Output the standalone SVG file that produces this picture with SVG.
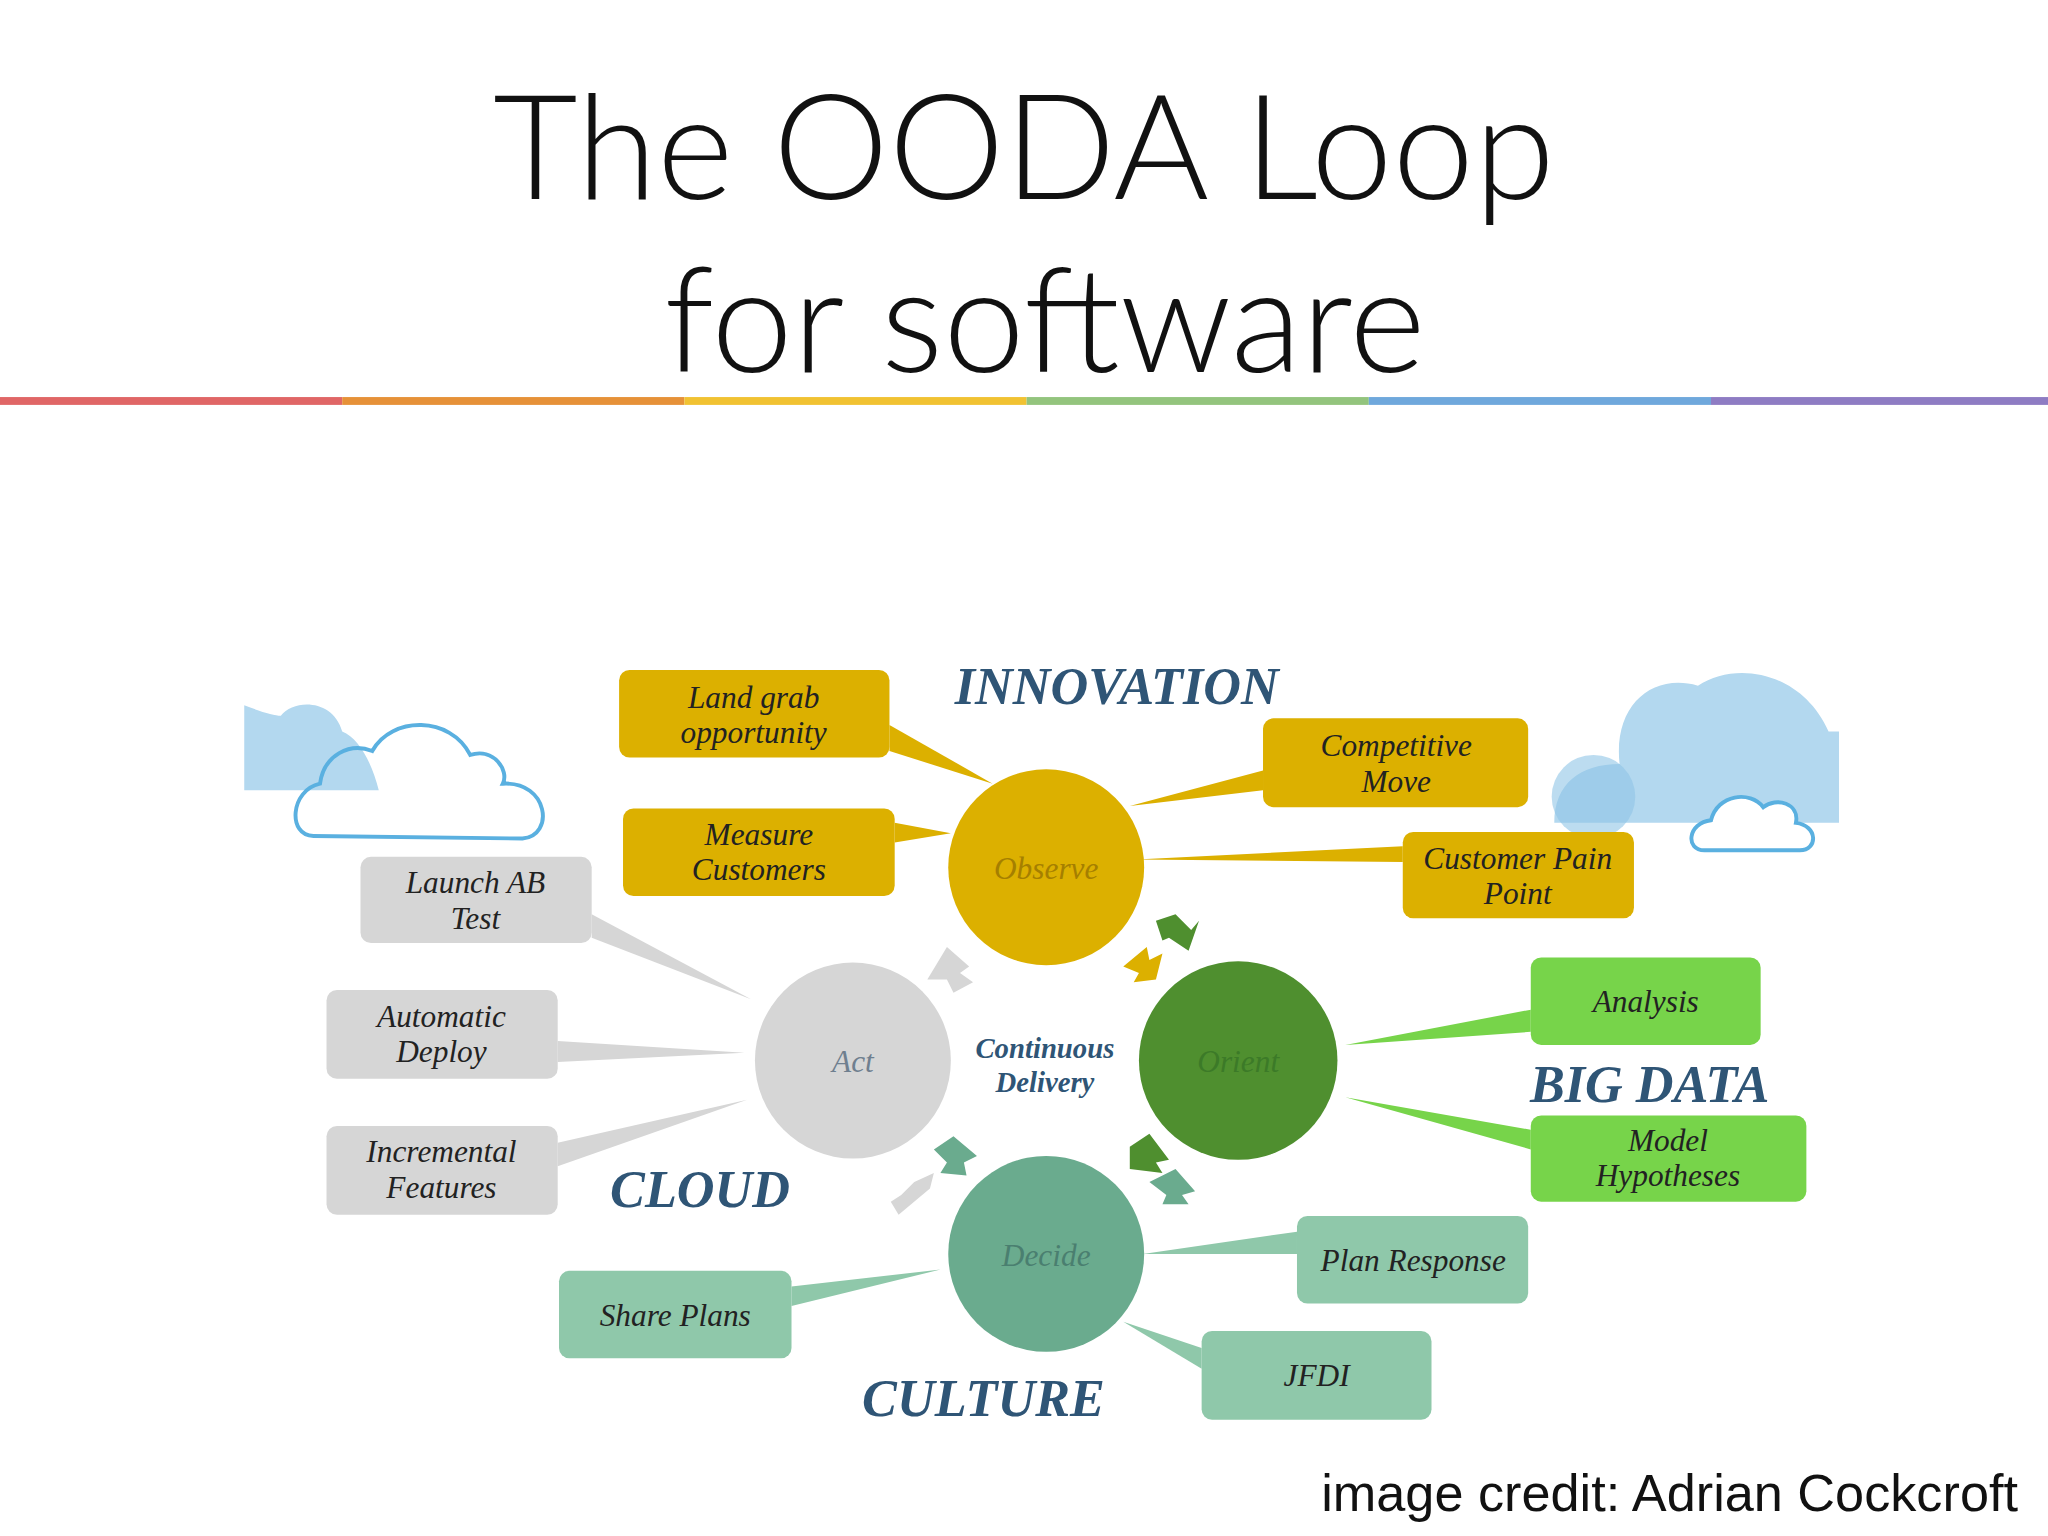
<svg xmlns="http://www.w3.org/2000/svg" width="2048" height="1536" viewBox="0 0 2048 1536">
<style>
.t{font-family:"Lato","Liberation Sans",sans-serif;font-weight:300;fill:#111;text-anchor:middle}
.b{font-family:"Liberation Serif",serif;font-style:italic;font-size:24px;fill:#222;text-anchor:middle}
.h{font-family:"Liberation Serif",serif;font-style:italic;font-weight:bold;fill:#2f5576;text-anchor:middle}
.y{fill:#dcb000}.g{fill:#d6d6d6}.l{fill:#77d44a}.q{fill:#8fc8aa}
</style>
<rect width="2048" height="1536" fill="#fff"/>
<g transform="scale(1.30612)">
<text class="t" x="784" y="152" font-size="112">The OODA Loop</text>
<text class="t" x="800" y="285" font-size="112">for software</text>
<g id="rainbow">
<rect x="0" y="304" width="262" height="6" fill="#e06666"/>
<rect x="262" y="304" width="262" height="6" fill="#e69138"/>
<rect x="524" y="304" width="262" height="6" fill="#f1c232"/>
<rect x="786" y="304" width="262" height="6" fill="#93c47d"/>
<rect x="1048" y="304" width="262" height="6" fill="#6fa8dc"/>
<rect x="1310" y="304" width="258" height="6" fill="#8e7cc3"/>
</g>
<g id="clouds">
<path d="M187 605 V540 C200 545 210 548 215 548 C225 535 255 535 262 560 C275 565 285 585 290 605 Z" fill="#b3d8ef"/>
<path d="M240 640 C220 640 222 605 245 600 C248 578 268 568 285 575 C300 548 345 548 360 578 C378 572 390 590 385 600 C420 598 425 640 400 642 Z" fill="none" stroke="#5ab0e0" stroke-width="3"/>
<path d="M1190 630 C1190 600 1210 585 1240 585 C1235 540 1265 515 1300 525 C1330 505 1380 515 1400 560 L1408 560 V630 Z" fill="#b3d8ef"/>
<circle cx="1220" cy="610" r="32" fill="#8fc4e6" opacity="0.6"/>
<path d="M1305 651 C1290 651 1292 630 1310 628 C1315 608 1340 605 1350 618 C1360 610 1378 615 1375 630 C1392 632 1392 651 1378 651 Z" fill="#fff" stroke="#5ab0e0" stroke-width="3"/>
</g>
<g id="connectors">
<polygon class="y" points="681,555 681,575 760,600"/>
<polygon class="y" points="685,630 685,645 728,638"/>
<polygon class="y" points="967,590 967,605 865,617"/>
<polygon class="y" points="1074,648 1074,660 870,658"/>
<polygon class="g" points="453,700 453,718 575,765"/>
<polygon class="g" points="427,797 427,813 570,806"/>
<polygon class="g" points="427,875 427,893 572,842"/>
<polygon class="l" points="1172,773 1172,790 1030,800"/>
<polygon class="l" points="1172,865 1172,880 1030,840"/>
<polygon class="q" points="993,943 993,960 875,960"/>
<polygon class="q" points="606,985 606,1000 720,972"/>
<polygon class="q" points="920,1032 920,1048 860,1012"/>
<polygon fill="#d6d6d6" points="710,750 725,725 742,740 735,745 745,752 730,760 725,750"/>
<polygon fill="#4f8f2f" points="885,705 900,700 912,712 918,705 910,728 895,718 890,720"/>
<polygon fill="#dcb000" points="860,740 878,725 880,735 890,730 885,750 868,752 872,745"/>
<polygon fill="#4f8f2f" points="865,878 880,868 895,888 885,890 890,898 865,895"/>
<polygon fill="#6aab8e" points="880,905 900,895 915,912 905,915 910,922 890,922 893,915"/>
<polygon fill="#6aab8e" points="715,880 730,870 748,885 738,890 740,900 720,898 725,890"/>
<polygon fill="#d6d6d6" points="700,905 715,898 712,910 688,930 682,920 690,915"/>
</g>
<g id="observe"><circle cx="801" cy="664" r="75" class="y"/><text class="b" x="801" y="673" fill="#b08a00" style="fill:#a57f00">Observe</text></g>
<g id="act"><circle cx="653" cy="812" r="75" class="g"/><text class="b" x="653" y="821" style="fill:#6f7f8f">Act</text></g>
<g id="orient"><circle cx="948" cy="812" r="76" fill="#4f8f2f"/><text class="b" x="948" y="821" style="fill:#3c7a28">Orient</text></g>
<g id="decide"><circle cx="801" cy="960" r="75" fill="#6aab8e"/><text class="b" x="801" y="969" style="fill:#4a7f70">Decide</text></g>
<g id="landgrab"><rect x="474" y="513" width="207" height="67" rx="8" class="y"/><text class="b" x="577" y="542">Land grab</text><text class="b" x="577" y="569">opportunity</text></g>
<g id="measure"><rect x="477" y="619" width="208" height="67" rx="8" class="y"/><text class="b" x="581" y="647">Measure</text><text class="b" x="581" y="674">Customers</text></g>
<g id="competitive"><rect x="967" y="550" width="203" height="68" rx="8" class="y"/><text class="b" x="1069" y="579">Competitive</text><text class="b" x="1069" y="606">Move</text></g>
<g id="pain"><rect x="1074" y="637" width="177" height="66" rx="8" class="y"/><text class="b" x="1162" y="665">Customer Pain</text><text class="b" x="1162" y="692">Point</text></g>
<g id="launch"><rect x="276" y="656" width="177" height="66" rx="8" class="g"/><text class="b" x="364" y="684">Launch AB</text><text class="b" x="364" y="711">Test</text></g>
<g id="deploy"><rect x="250" y="758" width="177" height="68" rx="8" class="g"/><text class="b" x="338" y="786">Automatic</text><text class="b" x="338" y="813">Deploy</text></g>
<g id="incremental"><rect x="250" y="862" width="177" height="68" rx="8" class="g"/><text class="b" x="338" y="890">Incremental</text><text class="b" x="338" y="917">Features</text></g>
<g id="analysis"><rect x="1172" y="733" width="176" height="67" rx="8" class="l"/><text class="b" x="1260" y="775">Analysis</text></g>
<g id="model"><rect x="1172" y="854" width="211" height="66" rx="8" class="l"/><text class="b" x="1277" y="881">Model</text><text class="b" x="1277" y="908">Hypotheses</text></g>
<g id="plan"><rect x="993" y="931" width="177" height="67" rx="8" class="q"/><text class="b" x="1082" y="973">Plan Response</text></g>
<g id="share"><rect x="428" y="973" width="178" height="67" rx="8" class="q"/><text class="b" x="517" y="1015">Share Plans</text></g>
<g id="jfdi"><rect x="920" y="1019" width="176" height="68" rx="8" class="q"/><text class="b" x="1008" y="1061">JFDI</text></g>
<g id="labels">
<text class="h" x="855" y="539" font-size="40">INNOVATION</text>
<text class="h" x="1263" y="844" font-size="40">BIG DATA</text>
<text class="h" x="536" y="924" font-size="40">CLOUD</text>
<text class="h" x="753" y="1084" font-size="40">CULTURE</text>
<text class="h" x="800" y="810" font-size="22">Continuous</text>
<text class="h" x="800" y="836" font-size="22">Delivery</text>
</g>
<text x="1545" y="1157" font-family="Liberation Sans,sans-serif" font-size="40" text-anchor="end" fill="#111">image credit: Adrian Cockcroft</text>
</g>
</svg>
